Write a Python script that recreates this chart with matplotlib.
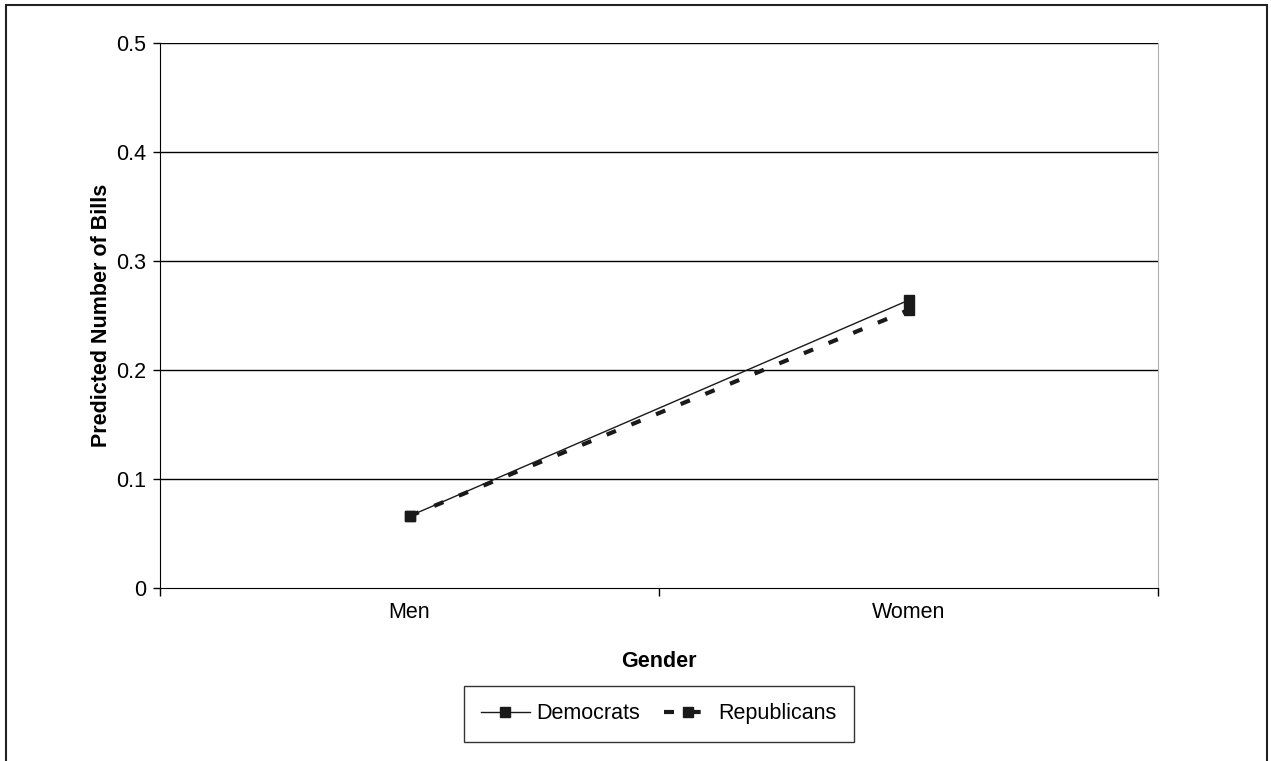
import matplotlib
matplotlib.use('Agg')
import matplotlib.pyplot as plt
from matplotlib.patches import Rectangle

plt.rcParams['font.family'] = ['Liberation Sans', 'DejaVu Sans']

genders = ['Men', 'Women']
democrats = [0.066, 0.264]
republicans = [0.066, 0.255]
y_ticks = [0, 0.1, 0.2, 0.3, 0.4, 0.5]
y_labels = ['0', '0.1', '0.2', '0.3', '0.4', '0.5']

FS = 15.5

fig = plt.figure(figsize=(12.71, 7.61), dpi=100)
ax = fig.add_axes([0.1259, 0.2273, 0.7852, 0.7162])

x = list(range(len(genders)))
ax.plot(x, democrats, '-', color='#1a1a1a', lw=1.0, marker='s', ms=7.5,
        label='Democrats', zorder=3)
ax.plot(x, republicans, '--', color='#1a1a1a', lw=3.0, dashes=(2.4, 4.0),
        marker='s', ms=7.5, label='Republicans', zorder=3)

ax.set_xlim(-0.5, len(genders) - 0.5)
ax.set_ylim(0, 0.5)
ax.set_yticks(y_ticks)
ax.set_yticklabels(y_labels)
ax.set_xticks(x)
ax.set_xticklabels(genders)
ax.tick_params(axis='x', length=0, pad=10, labelsize=FS)
ax.set_xticks([-0.5, 0.5, 1.5], minor=True)
ax.tick_params(axis='x', which='minor', length=6, width=1, direction='out')
ax.tick_params(axis='y', length=5, width=1, direction='out', pad=5, labelsize=FS)

for v in y_ticks[1:]:
    ax.axhline(v, color='black', lw=1.0, zorder=1)

ax.spines['top'].set_visible(False)
ax.spines['right'].set_color('#b0b0b0')
ax.spines['left'].set_color('black')
ax.spines['bottom'].set_color('black')

ax.set_xlabel('Gender', fontweight='bold', fontsize=FS, labelpad=20)
ax.set_ylabel('Predicted Number of Bills', fontweight='bold', fontsize=FS, labelpad=3)

leg = ax.legend(loc='upper center', bbox_to_anchor=(0.5, -0.18), ncol=2,
                frameon=True, fancybox=False, fontsize=FS, handlelength=2.25,
                handletextpad=0.3, columnspacing=1.1, borderpad=0.8,
                borderaxespad=0, edgecolor='black')
leg.get_frame().set_linewidth(1.0)

fig.patches.append(Rectangle((6 / 1271, -0.05), 1261 / 1271, 1.05 - 5 / 761,
                             transform=fig.transFigure, fill=False,
                             edgecolor='#222222', lw=1.5))

fig.savefig('out.png', dpi=100)
